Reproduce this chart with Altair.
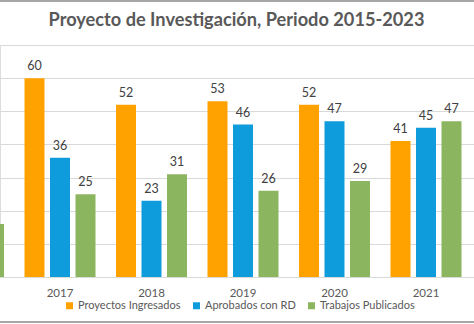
import altair as alt
import pandas as pd

# ---- data ----
series = ["Proyectos Ingresados", "Aprobados con RD", "Trabajos Publicados"]
colors = ["#FFA200", "#0E9CDC", "#8CB560"]
axis_years = ["2016", "2017", "2018", "2019", "2020", "2021", "2022"]
shown_years = ["2017", "2018", "2019", "2020", "2021"]
data_years = ["2016", "2017", "2018", "2019", "2020", "2021"]
ingresados = [None, 60, 52, 53, 52, 41]
aprobados = [None, 36, 23, 46, 47, 45]
publicados = [16, 25, 31, 26, 29, 47]
grid_values = [0, 10, 20, 30, 40, 50, 60, 70]
title_text = "Proyecto de Investigación, Periodo 2015-2023"

rows = []
for i, y in enumerate(data_years):
    for s, vals in zip(series, [ingresados, aprobados, publicados]):
        if vals[i] is not None:
            rows.append({"year": y, "series": s, "value": vals[i]})
df = pd.DataFrame(rows)

FONT = "Lato"
W, H = 474, 232

x = alt.X(
    "year:N",
    scale=alt.Scale(domain=axis_years, range=[-77.25, 563.25], paddingInner=0, paddingOuter=0),
    axis=alt.Axis(title=None, labelAngle=0, ticks=False, domainColor="#d9d9d9",
                  values=shown_years,
                  labelFont=FONT, labelFontSize=11.5, labelColor="#595959",
                  labelPadding=10, labelOverlap=False),
)
y = alt.Y(
    "value:Q",
    scale=alt.Scale(domain=[0, 70], nice=False),
    axis=alt.Axis(title=None, labels=False, ticks=False, domain=False,
                  values=grid_values, gridColor="#d9d9d9"),
)
xoff = alt.XOffset("series:N", sort=series,
                   scale=alt.Scale(domain=series, paddingInner=0.2157, paddingOuter=0.402))
color = alt.Color(
    "series:N",
    scale=alt.Scale(domain=series, range=colors),
    legend=alt.Legend(title=None, orient="none", legendX=64, legendY=255,
                      direction="horizontal", symbolType="square", symbolSize=49,
                      symbolStrokeWidth=0, labelFont=FONT, labelFontSize=11,
                      labelColor="#595959", columnPadding=10, labelOffset=3),
)

base = alt.Chart(df)
bars = base.mark_bar(clip=True).encode(x=x, y=y, xOffset=xoff, color=color)
labels = base.transform_filter(
    alt.FieldOneOfPredicate(field="year", oneOf=shown_years)
).mark_text(dy=-12, baseline="middle", fontSize=12.5,
            font=FONT, color="#404040").encode(
    x=x, y=y, xOffset=xoff, text="value:Q")

one = pd.DataFrame({"t": [title_text]})
title = alt.Chart(one).mark_text(font=FONT, fontSize=18.2, fontWeight="bold",
                                 color="#595959", baseline="middle", align="center").encode(
    x=alt.value(W / 2 - 0.5), y=alt.value(-24.5), text="t:N")
top_line = alt.Chart(one).mark_rule(color="#a6a6a6", strokeWidth=2).encode(
    x=alt.value(0), x2=alt.value(W), y=alt.value(-44))
bottom_line = alt.Chart(one).mark_rule(color="#a6a6a6", strokeWidth=2).encode(
    x=alt.value(0), x2=alt.value(W), y=alt.value(H + 45))

chart = alt.layer(bars, labels, title, top_line, bottom_line).properties(
    width=W, height=H,
    autosize=alt.AutoSizeParams(type="none"),
    padding={"left": 0, "right": 0, "top": 45, "bottom": 47},
).configure_view(stroke=None).configure(background="white")

chart.save("out.html", embed_options={"renderer": "svg", "actions": False})
